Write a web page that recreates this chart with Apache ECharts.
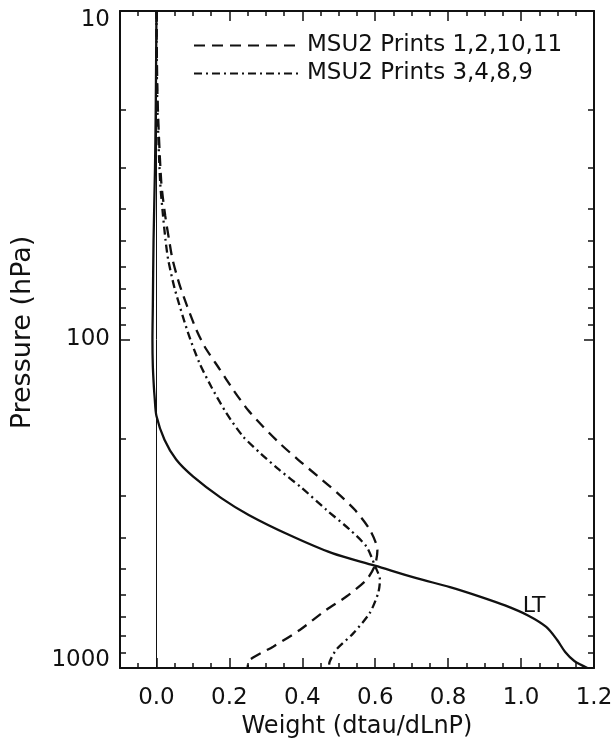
<!DOCTYPE html>
<html>
<head>
<meta charset="utf-8">
<script src="https://cdn.jsdelivr.net/npm/echarts@6/dist/echarts.min.js"></script>
<style>
html,body{margin:0;padding:0;background:#fff;}
#chart{width:613px;height:742px;}
</style>
</head>
<body>
<div id="chart"></div>
<script>
// ---- data (pressure in hPa, weight in dtau/dLnP) ----
const ltPressure = [10, 20, 30, 50, 80, 100, 120, 140, 150, 171, 202, 232, 261, 304, 342, 393, 447, 488, 533, 567, 606, 645, 692, 750, 822, 894, 952, 1000];
const ltWeight   = [0.0, -0.002, -0.004, -0.008, -0.010, -0.011, -0.010, -0.007, -0.005, 0.0, 0.022, 0.054, 0.100, 0.178, 0.253, 0.363, 0.482, 0.599, 0.713, 0.805, 0.887, 0.956, 1.019, 1.069, 1.099, 1.121, 1.146, 1.182];

const dashPressure = [10, 18.5, 33, 42, 50, 57, 69, 91, 105, 123, 142, 164, 184, 207, 232, 261, 293, 330, 379, 437, 488, 539, 606, 665, 766, 861, 946, 1000];
const dashWeight   = [0.0, 0.003, 0.013, 0.024, 0.035, 0.044, 0.065, 0.105, 0.132, 0.173, 0.210, 0.251, 0.292, 0.338, 0.388, 0.443, 0.496, 0.544, 0.585, 0.606, 0.599, 0.576, 0.521, 0.466, 0.393, 0.320, 0.255, 0.250];

const dotPressure = [10, 18.5, 33, 42, 50, 57, 70, 95, 118, 139, 167, 197, 222, 250, 282, 330, 379, 427, 488, 539, 592, 680, 786, 877, 957, 1000];
const dotWeight   = [0.0, 0.002, 0.010, 0.018, 0.025, 0.032, 0.050, 0.086, 0.118, 0.150, 0.191, 0.237, 0.285, 0.338, 0.397, 0.466, 0.530, 0.576, 0.599, 0.613, 0.608, 0.585, 0.539, 0.494, 0.475, 0.473];

const seriesNames = ['MSU2 Prints 1,2,10,11', 'MSU2 Prints 3,4,8,9'];
const ltLabel = 'LT';
const ltLabelIndex = 22;

const xMajorTicks = [0.0, 0.2, 0.4, 0.6, 0.8, 1.0, 1.2];
const yMin = 10, yMax = 1000;
const yMinorTicks = [20, 30, 40, 50, 60, 70, 80, 90, 200, 300, 400, 500, 600, 700, 800, 900];
const xTitle = 'Weight (dtau/dLnP)';
const yTitle = 'Pressure (hPa)';

// ---- build ----
const FONT = 'DejaVu Sans';
const INK = '#111';
function pairs(ws, ps) { return ws.map((w, i) => [w, ps[i]]); }

const XMIN = -0.1, XMAX = 1.2;
function xAx(pos, major, showLabel) {
  const a = {
    type: 'value', position: pos, min: XMIN, max: XMAX, gridIndex: 0,
    splitLine: { show: false },
    axisLine: { show: major, onZero: false, lineStyle: { color: INK, width: 2 } },
  };
  if (major) {
    a.axisTick = { show: true, inside: true, length: 10, customValues: xMajorTicks, lineStyle: { color: INK, width: 1.5 } };
    a.axisLabel = { show: showLabel, customValues: xMajorTicks, margin: 19, color: INK, fontFamily: FONT, fontSize: 23,
                    formatter: v => Number(v).toFixed(1) };
  } else {
    a.interval = 0.05;
    a.axisTick = { show: true, inside: true, length: 5, lineStyle: { color: INK, width: 1.5 } };
    a.axisLabel = { show: false };
  }
  return a;
}
const labTxt = { color: INK, fontFamily: FONT, fontSize: 23 };
function yAx(pos, major, showLabel) {
  const a = {
    type: 'log', logBase: 10, inverse: true, position: pos, min: yMin, max: yMax, gridIndex: 0,
    splitLine: { show: false },
    axisLine: { show: major, onZero: false, lineStyle: { color: INK, width: 2 } },
  };
  if (major) {
    a.axisTick = { show: true, inside: true, length: 10, lineStyle: { color: INK, width: 1.5 } };
    a.axisLabel = {
      show: showLabel, margin: 10, color: INK, fontFamily: FONT, fontSize: 23,
      formatter: v => {
        const r = Math.round(v);
        if (r === yMin) return '{t|' + r + '}';
        if (r === yMax) return '{b|' + r + '}';
        return '{m|' + r + '}';
      },
      rich: {
        t: Object.assign({ padding: [18, 0, 0, 0] }, labTxt),
        b: Object.assign({ padding: [0, 0, 16, 0] }, labTxt),
        m: Object.assign({}, labTxt)
      }
    };
  } else {
    a.axisTick = { show: true, inside: true, length: 6, customValues: yMinorTicks, lineStyle: { color: INK, width: 1.5 } };
    a.axisLabel = { show: false };
  }
  return a;
}

const xAxes = [xAx('bottom', true, true), xAx('bottom', false), xAx('top', true, false), xAx('top', false)];
xAxes[0].name = xTitle;
xAxes[0].nameLocation = 'middle';
xAxes[0].nameGap = 45;
xAxes[0].nameTextStyle = { color: INK, fontFamily: FONT, fontSize: 24 };

const yAxes = [yAx('left', true, true), yAx('left', false), yAx('right', true, false), yAx('right', false)];
yAxes[0].name = yTitle;
yAxes[0].nameLocation = 'middle';
yAxes[0].nameGap = 84;
yAxes[0].nameTextStyle = { color: INK, fontFamily: FONT, fontSize: 27, padding: [0, 0, 0, 14] };

const chart = echarts.init(document.getElementById('chart'), null, { renderer: 'canvas' });
chart.setOption({
  animation: false,
  backgroundColor: '#fff',
  grid: { left: 120, right: 19, top: 11, bottom: 74, containLabel: false, outerBoundsMode: 'none' },
  legend: {
    data: seriesNames,
    orient: 'vertical', left: 193, top: 34, padding: 0,
    itemWidth: 108, itemHeight: 14, itemGap: 5,
    itemStyle: { opacity: 0 },
    textStyle: { color: INK, fontFamily: FONT, fontSize: 23, lineHeight: 22 },
    selectedMode: false
  },
  xAxis: xAxes,
  yAxis: yAxes,
  series: [
    {
      name: 'LT', type: 'line', xAxisIndex: 0, yAxisIndex: 0,
      data: pairs(ltWeight, ltPressure), symbol: 'none', smooth: 0.3,
      lineStyle: { color: INK, width: 2.3, type: 'solid' },
      markLine: {
        silent: true, symbol: 'none', label: { show: false },
        lineStyle: { color: INK, width: 1, type: 'solid' },
        data: [{ xAxis: 0 }]
      },
      markPoint: {
        silent: true,
        symbol: 'circle', symbolSize: 2,
        itemStyle: { color: 'rgba(0,0,0,0)' },
        label: { show: true, formatter: ltLabel, position: 'top', distance: -3, offset: [6, 0],
                 color: INK, fontFamily: FONT, fontSize: 22 },
        data: [{ coord: [ltWeight[ltLabelIndex], ltPressure[ltLabelIndex]] }]
      },
      z: 3
    },
    {
      name: seriesNames[0], type: 'line', xAxisIndex: 0, yAxisIndex: 0,
      data: pairs(dashWeight, dashPressure), symbol: 'none', smooth: 0.25,
      itemStyle: { color: INK },
      lineStyle: { color: INK, width: 2.3, type: [11, 7] }
    },
    {
      name: seriesNames[1], type: 'line', xAxisIndex: 0, yAxisIndex: 0,
      data: pairs(dotWeight, dotPressure), symbol: 'none', smooth: 0.25,
      itemStyle: { color: INK },
      lineStyle: { color: INK, width: 2.3, type: [8, 4, 2, 4] }
    }
  ]
});
</script>
</body>
</html>
